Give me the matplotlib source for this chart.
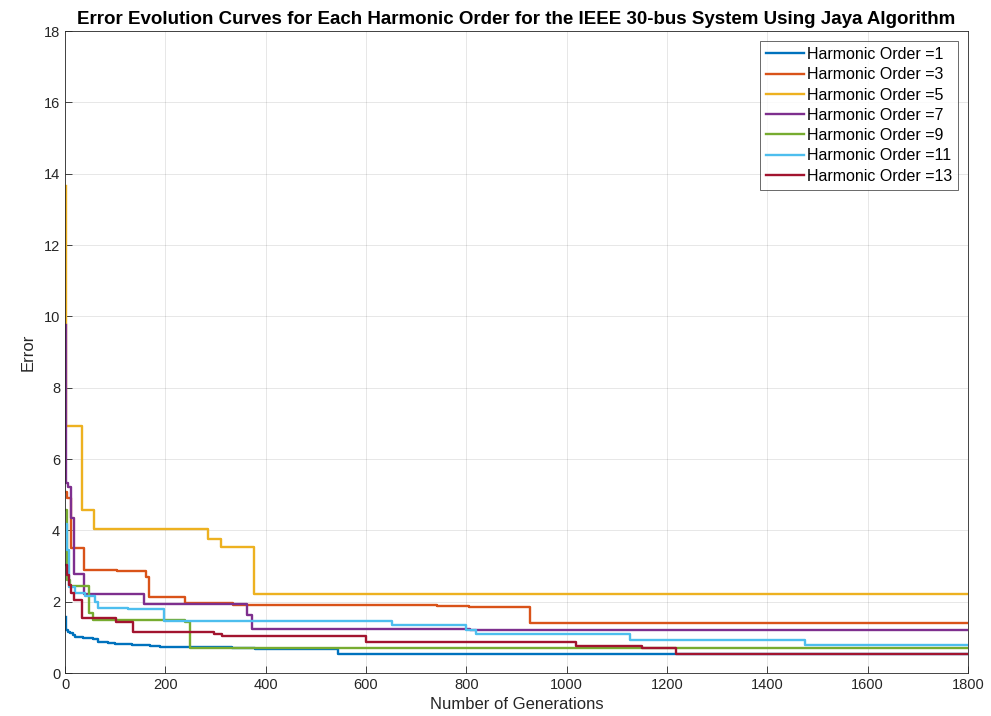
import matplotlib
matplotlib.use("Agg")
import matplotlib.pyplot as plt

plt.rcParams['font.family'] = ['Liberation Sans', 'DejaVu Sans']

# generation where the best error changes, and the new error value (step curves)
gen_h1 = [1, 2, 5, 10, 15, 20, 36, 55, 66, 85, 100, 133, 169, 190, 206, 332, 379, 545, 1800]
err_h1 = [1.58, 1.20, 1.16, 1.12, 1.07, 1.02, 0.98, 0.95, 0.88, 0.84, 0.81, 0.79, 0.76, 0.73, 0.72, 0.69, 0.66, 0.52, 0.52]

gen_h3 = [1, 4, 11, 37, 104, 162, 167, 240, 335, 741, 805, 927, 1800]
err_h3 = [5.08, 4.90, 3.51, 2.90, 2.87, 2.70, 2.12, 1.95, 1.91, 1.89, 1.86, 1.39, 1.39]

gen_h5 = [1, 2, 33, 58, 286, 311, 377, 1800]
err_h5 = [13.65, 6.92, 4.58, 4.05, 3.76, 3.53, 2.22, 2.22]

gen_h7 = [1, 2, 5, 11, 17, 37, 158, 362, 373, 807, 1800]
err_h7 = [9.76, 5.33, 5.22, 4.35, 2.79, 2.21, 1.93, 1.63, 1.24, 1.21, 1.21]

gen_h9 = [1, 3, 10, 47, 55, 240, 249, 1800]
err_h9 = [4.58, 2.61, 2.44, 1.67, 1.50, 1.42, 0.71, 0.71]

gen_h11 = [1, 4, 7, 20, 40, 60, 66, 125, 197, 651, 800, 820, 1126, 1475, 1800]
err_h11 = [4.18, 3.45, 2.42, 2.24, 2.16, 2.00, 1.83, 1.79, 1.46, 1.34, 1.21, 1.09, 0.92, 0.80, 0.80]

gen_h13 = [1, 4, 8, 12, 17, 34, 102, 135, 296, 312, 600, 1018, 1151, 1218, 1800]
err_h13 = [3.03, 2.75, 2.47, 2.25, 2.05, 1.53, 1.44, 1.14, 1.09, 1.03, 0.88, 0.76, 0.69, 0.52, 0.52]

orders = [1, 3, 5, 7, 9, 11, 13]
gens = [gen_h1, gen_h3, gen_h5, gen_h7, gen_h9, gen_h11, gen_h13]
errs = [err_h1, err_h3, err_h5, err_h7, err_h9, err_h11, err_h13]
colors = ['#0072BD', '#D95319', '#EDB120', '#7E2F8E', '#77AC30', '#4DBEEE', '#A2142F']

fig = plt.figure(figsize=(9.91, 7.16), dpi=100)
ax = fig.add_axes([0.0656, 0.060, 0.9112, 0.8967])

for g, e, c, n in zip(gens, errs, colors, orders):
    ax.plot(g, e, drawstyle='steps-post', color=c, lw=1.7, label=f'Harmonic Order ={n}')

ax.set_xlim(0, 1800)
ax.set_ylim(0, 18)
ax.set_xticks(range(0, 1801, 200))
ax.set_yticks(range(0, 19, 2))
ax.grid(True, color='#262626', alpha=0.13, lw=0.6)
ax.set_axisbelow(True)
ax.tick_params(direction='in', length=5, width=0.6, colors='#262626', labelsize=10.5)
for s in ax.spines.values():
    s.set_color('#262626')
    s.set_linewidth(0.6)

ax.set_xlabel('Number of Generations', fontsize=12, color='#262626', labelpad=4)
ax.set_ylabel('Error', fontsize=12, color='#262626', labelpad=6)
ax.set_title('Error Evolution Curves for Each Harmonic Order for the IEEE 30-bus System Using Jaya Algorithm',
             fontsize=13.5, fontweight='bold', pad=5)

leg = ax.legend(loc='upper right', fontsize=11.5, frameon=True, fancybox=False,
                borderaxespad=0.6, handlelength=2.4, handletextpad=0.15,
                labelspacing=0.33, borderpad=0.4)
leg.get_frame().set_edgecolor('#262626')
leg.get_frame().set_linewidth(0.6)

fig.savefig('out.png', dpi=100)
